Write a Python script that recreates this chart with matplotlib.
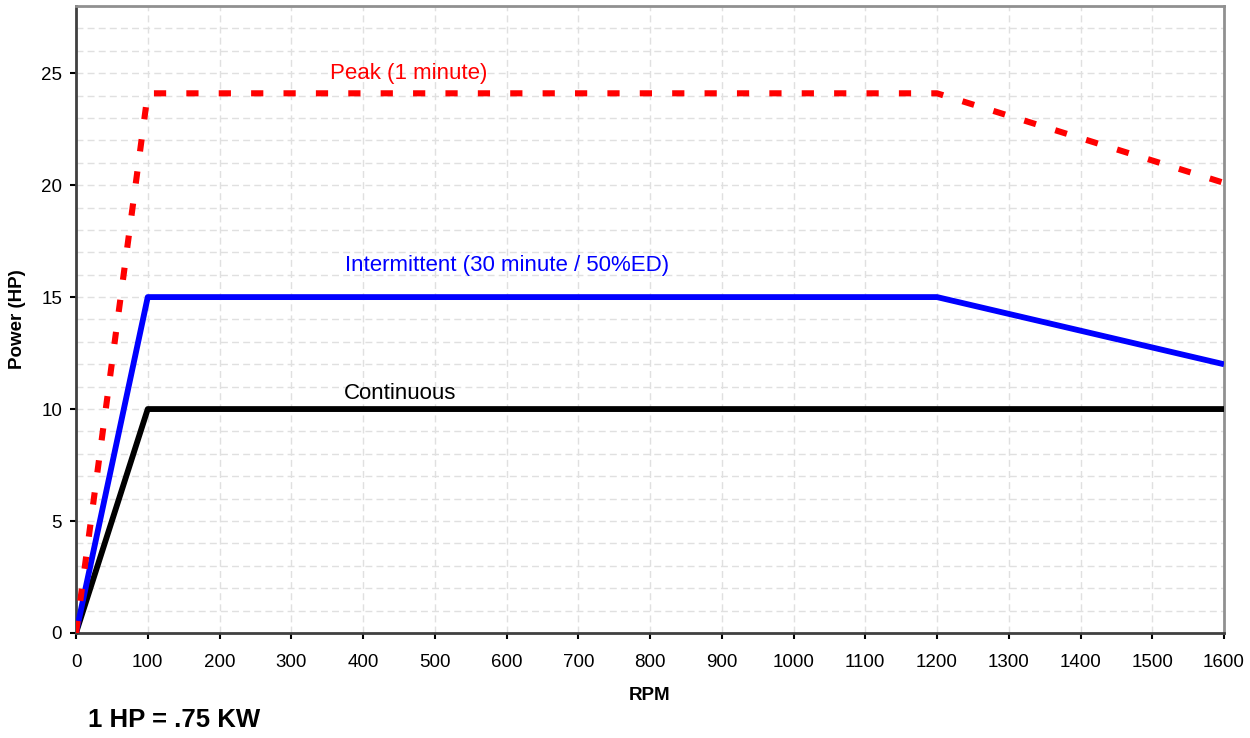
import matplotlib
matplotlib.use("Agg")
import matplotlib.pyplot as plt
from matplotlib.ticker import MultipleLocator

plt.rcParams['font.family'] = ['Liberation Sans', 'DejaVu Sans']

rpm_points = [0, 100, 1200, 1600]
peak_hp = [0, 24.1, 24.1, 20.1]
intermittent_hp = [0, 15, 15, 12]
continuous_hp = [0, 10, 10, 10]

fig = plt.figure(figsize=(12.5, 7.38), dpi=100)
ax = fig.add_axes([0.0608, 0.1423, 0.9184, 0.8496])

ax.plot(rpm_points, continuous_hp, color='black', lw=4.2, solid_capstyle='butt', zorder=3)
ax.plot(rpm_points, intermittent_hp, color='#0000ff', lw=4.2, solid_capstyle='butt', zorder=4)
ax.plot(rpm_points, peak_hp, color='#ff0000', lw=4.4, dashes=(2.0, 3.3), dash_capstyle='butt', zorder=5)

ax.set_xlim(0, 1600)
ax.set_ylim(0, 28)
ax.xaxis.set_major_locator(MultipleLocator(100))
ax.yaxis.set_major_locator(MultipleLocator(5))
ax.yaxis.set_minor_locator(MultipleLocator(1))
ax.grid(which='major', axis='x', color='#e0e0e0', ls=(0, (5, 3)), lw=1)
ax.grid(which='both', axis='y', color='#e0e0e0', ls=(0, (5, 3)), lw=1)
ax.tick_params(which='minor', length=0)
ax.tick_params(which='major', direction='out', length=4, width=1.5, labelsize=13.5)
ax.tick_params(axis='x', which='major', pad=11)
ax.tick_params(axis='y', which='major', pad=6)
ax.set_axisbelow(True)

for s in ['left', 'bottom']:
    ax.spines[s].set_color('#404040')
    ax.spines[s].set_linewidth(2)
for s in ['top', 'right']:
    ax.spines[s].set_color('#909090')
    ax.spines[s].set_linewidth(2)

ax.text(464, 25, 'Peak (1 minute)', color='#ff0000', fontsize=16, ha='center', va='center')
ax.text(601, 16.4, 'Intermittent (30 minute / 50%ED)', color='#0000ff', fontsize=16, ha='center', va='center')
ax.text(451.6, 10.7, 'Continuous', color='black', fontsize=16, ha='center', va='center')

ax.set_xlabel('RPM', fontsize=13.5, fontweight='bold', labelpad=12)
ax.set_ylabel('Power (HP)', fontsize=13.5, fontweight='bold', labelpad=11)

fig.text(88 / 1250, 1 - 720 / 738, '1 HP = .75 KW', fontsize=18.5, fontweight='bold', ha='left', va='center')

fig.savefig('out.png', dpi=100)
